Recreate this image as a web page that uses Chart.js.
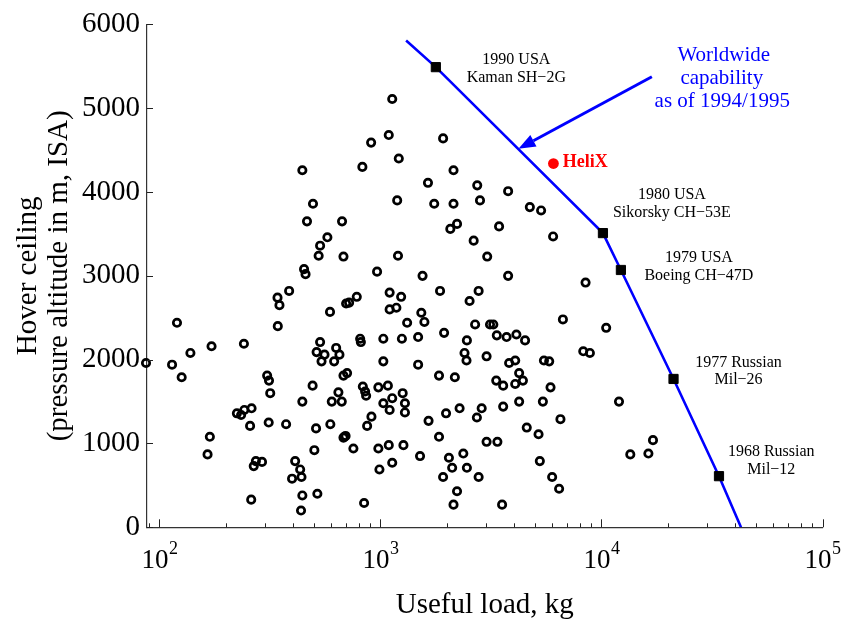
<!DOCTYPE html>
<html><head><meta charset="utf-8">
<script src="https://cdn.jsdelivr.net/npm/chart.js@4.4.1/dist/chart.umd.min.js"></script>
<style>html,body{margin:0;padding:0;background:#fff;}#wrap{width:842px;height:623px;}</style>
</head><body><div id="wrap"><canvas id="c" width="842" height="623"></canvas></div>
<script>
// ---- data ----
const loadKg = [1130,1090,907,1920,1210,828,2140,443,1640,2740,3780,2820,1190,1750,2140,495,4740,5330,465,670,
2070,2220,3440,6040,2640,575,533,525,680,1200,3040,965,451,458,1550,3780,8470,1860,2780,1100,
386,342,1240,781,699,721,2530,349,343,120,138,172,241,86.9,114,126,307,313,317,493,
443,533,514,541,558,630,652,617,591,1100,1180,1530,1580,1320,2680,3130,3240,1940,809,815,
1030,1250,1480,2460,2400,2450,3020,1030,1480,1840,2170,680,706,645,602,668,832,852,861,978,
1080,1260,1030,1130,1100,1290,1290,1650,1980,2280,2730,2870,593,511,910,870,680,695,688,754,
502,978,1090,1270,1840,3020,3380,1510,1130,989,2040,2110,2370,2460,1920,2780,518,843,2220,2140,
6690,10500,3360,3720,4120,4510,8270,8860,4070,3820,5490,5800,3340,3590,4070,4240,4410,5880,4240,5430,
3590,12000,6520,4590,5190,17100,13500,16300,5260,5980,6430,3550,224,234,242,261,257,312,374,169,
165,273,291,267,411,433,439,398,443,260,437];
const ceilingM = [5110,4680,4590,4640,4400,4300,4260,4260,4110,4080,4010,3900,3900,3860,3860,3860,3820,3780,3650,3650,
3560,3620,3590,3470,3420,3460,3360,3240,3230,3240,3230,3050,3080,3020,3000,3000,2920,2820,2820,2800,
2820,2740,2750,2750,2670,2680,2700,2650,2400,2440,2080,2160,2190,1960,1940,1790,1810,1750,1600,1690,
1500,2210,2090,1980,2060,2140,2060,1980,2570,2600,2620,2560,2450,2440,2420,2420,2420,2320,2250,2210,
2250,2250,2270,2230,2080,1990,2040,1980,1940,1810,1790,1810,1840,1610,1500,1500,1680,1620,1570,1670,
1690,1600,1480,1540,1400,1480,1370,1270,1360,1420,1310,1420,1230,1180,1320,1210,1070,1090,1080,940,
920,940,980,980,1080,1020,1020,850,770,690,830,710,880,710,600,600,400,290,430,270,
2480,2380,2290,2270,2300,2230,2100,2080,1990,1960,1990,1980,1750,1690,1710,1840,1750,1670,1500,1500,
1440,1500,1290,1190,1110,1040,870,880,790,600,460,270,1360,1340,1400,1420,1210,1250,1230,1080,
870,790,780,730,790,690,600,580,380,330,200];

const envelopeLoad = [1306, 1780, 10150, 12240, 21180, 34010, 42770];
const envelopeCeiling = [5807, 5490, 3510, 3070, 1770, 610, 0];
const envelopeMarked = [false, true, true, true, true, true, false];
const envelopeLabels = [null, ['1990 USA','Kaman SH\u22122G'], ['1980 USA','Sikorsky CH\u221253E'],
  ['1979 USA','Boeing CH\u221247D'], ['1977 Russian','Mil\u221226'], ['1968 Russian','Mil\u221212'], null];

const helixLoad = [6060];
const helixCeiling = [4340];
const helixName = 'HeliX';

const arrowFrom = [16900, 5375];
const arrowTo = [4210, 4515];
const capabilityText = ['Worldwide', 'capability', 'as of 1994/1995'];
const capabilityAt = [35200, 5355];

const xPowers = [2, 3, 4, 5];
const yTicks = [0, 1000, 2000, 3000, 4000, 5000, 6000];

// ---- styling (not data) ----
const SERIF = '"Liberation Serif", "Times New Roman", serif';
const BLUE = '#0000ff';
const labelOffsets = [null, [80.5,-7.7,10.7], [69,-38.6,-20.3], [78,-12.3,5.4], [65,-16.3,1], [52.3,-24.3,-6.3], null];

Chart.defaults.font.family = SERIF;
Chart.defaults.color = '#000';

const decor = {
  id: 'decor',
  afterDatasetsDraw(chart) {
    const {ctx, chartArea: a, scales: {x, y}} = chart;
    ctx.save();
    // inward ticks
    ctx.strokeStyle = '#222';
    ctx.lineWidth = 1;
    ctx.beginPath();
    for (let e = 1; e <= 5; e++) {
      for (let m = 1; m <= 9; m++) {
        const v = m * Math.pow(10, e);
        if (v < x.min || v > x.max * 1.0001) continue;
        const px = Math.round(x.getPixelForValue(v)) + 0.5;
        const len = m === 1 ? 8 : 4;
        ctx.moveTo(px, a.bottom);
        ctx.lineTo(px, a.bottom - len);
      }
    }
    yTicks.forEach(v => {
      const py = Math.round(y.getPixelForValue(v)) + 0.5;
      ctx.moveTo(a.left, py);
      ctx.lineTo(a.left + 6, py);
    });
    ctx.stroke();

    // x tick labels 10^n
    ctx.fillStyle = '#000';
    ctx.textBaseline = 'alphabetic';
    ctx.textAlign = 'left';
    xPowers.forEach(p => {
      const px = x.getPixelForValue(Math.pow(10, p));
      ctx.font = '27px ' + SERIF;
      const w1 = ctx.measureText('10').width;
      ctx.font = '18px ' + SERIF;
      const w2 = ctx.measureText(String(p)).width;
      const start = px - (w1 + w2) / 2;
      ctx.font = '27px ' + SERIF;
      ctx.fillText('10', start, a.bottom + 41);
      ctx.font = '18px ' + SERIF;
      ctx.fillText(String(p), start + w1 + 0.5, a.bottom + 27);
    });

    // envelope labels
    ctx.font = '16px ' + SERIF;
    ctx.textAlign = 'center';
    ctx.textBaseline = 'middle';
    envelopeLoad.forEach((v, i) => {
      const lab = envelopeLabels[i];
      if (!lab) return;
      const px = x.getPixelForValue(v), py = y.getPixelForValue(envelopeCeiling[i]);
      const o = labelOffsets[i];
      ctx.fillText(lab[0], px + o[0], py + o[1]);
      ctx.fillText(lab[1], px + o[0], py + o[2]);
    });

    // HeliX label
    ctx.fillStyle = '#ff0000';
    ctx.font = 'bold 18px ' + SERIF;
    ctx.textAlign = 'left';
    const hx = x.getPixelForValue(helixLoad[0]), hy = y.getPixelForValue(helixCeiling[0]);
    ctx.fillText(helixName, hx + 9.4, hy - 1.5);

    // capability text
    ctx.fillStyle = BLUE;
    ctx.font = '21px ' + SERIF;
    ctx.textAlign = 'center';
    const cx = x.getPixelForValue(capabilityAt[0]), cy = y.getPixelForValue(capabilityAt[1]);
    ctx.fillText(capabilityText[0], cx + 1.5, cy - 23.4);
    ctx.fillText(capabilityText[1], cx - 0.5, cy);
    ctx.fillText(capabilityText[2], cx, cy + 23);

    // arrow
    const x0 = x.getPixelForValue(arrowFrom[0]), y0 = y.getPixelForValue(arrowFrom[1]);
    const x1 = x.getPixelForValue(arrowTo[0]), y1 = y.getPixelForValue(arrowTo[1]);
    const ang = Math.atan2(y1 - y0, x1 - x0);
    const hl = 17, hw = 6.5;
    const bx = x1 - hl * Math.cos(ang), by = y1 - hl * Math.sin(ang);
    ctx.strokeStyle = BLUE;
    ctx.fillStyle = BLUE;
    ctx.lineWidth = 3;
    ctx.beginPath();
    ctx.moveTo(x0, y0);
    ctx.lineTo(bx, by);
    ctx.stroke();
    ctx.beginPath();
    ctx.moveTo(x1, y1);
    ctx.lineTo(bx + hw * Math.sin(ang), by - hw * Math.cos(ang));
    ctx.lineTo(bx - hw * Math.sin(ang), by + hw * Math.cos(ang));
    ctx.closePath();
    ctx.fill();
    ctx.restore();
  }
};

new Chart(document.getElementById('c'), {
  type: 'scatter',
  data: {
    datasets: [
      {
        type: 'line',
        label: 'Worldwide capability',
        data: envelopeLoad.map((v, i) => ({x: v, y: envelopeCeiling[i]})),
        borderColor: BLUE,
        borderWidth: 2.6,
        showLine: true,
        fill: false,
        tension: 0,
        pointStyle: 'rect',
        pointRadius: envelopeMarked.map(m => m ? 6.5 : 0),
        pointBackgroundColor: '#000',
        pointBorderColor: '#000',
        pointBorderWidth: 1
      },
      {
        label: helixName,
        data: helixLoad.map((v, i) => ({x: v, y: helixCeiling[i]})),
        pointRadius: 5.4,
        pointBackgroundColor: '#ff0000',
        pointBorderColor: '#ff0000',
        pointBorderWidth: 0
      },
      {
        label: 'Helicopters',
        data: loadKg.map((v, i) => ({x: v, y: ceilingM[i]})),
        pointRadius: 3.7,
        pointBorderWidth: 2.7,
        pointBorderColor: '#000',
        pointBackgroundColor: 'rgba(0,0,0,0)',
        clip: false
      }
    ]
  },
  options: {
    responsive: false,
    animation: false,
    devicePixelRatio: 1,
    layout: {padding: {left: 0, right: 19.5, top: 18, bottom: 0}},
    plugins: {legend: {display: false}, tooltip: {enabled: false}},
    scales: {
      x: {
        type: 'logarithmic',
        position: 'bottom',
        min: 87.8,
        max: 100000,
        grid: {display: false, drawTicks: false},
        border: {display: true, color: '#333', width: 1.2},
        ticks: {display: false},
        title: {display: true, text: 'Useful load, kg', font: {size: 29, lineHeight: 1.2}, color: '#000', padding: {top: 0, bottom: 0.6}},
        afterFit: s => { s.height = 95.7; }
      },
      y: {
        type: 'linear',
        position: 'left',
        min: 0,
        max: 6000,
        grid: {display: false, drawTicks: false},
        border: {display: true, color: '#333', width: 1.2},
        ticks: {stepSize: 1000, padding: 7, font: {size: 29}, color: '#000', callback: v => String(v)},
        title: {display: true, text: ['Hover ceiling', '(pressure altitude in m, ISA)'], font: {size: 29, lineHeight: 1.1}, color: '#000', padding: {top: 12, bottom: 0}},
        afterFit: s => { s.width = 147; }
      }
    }
  },
  plugins: [decor]
});
</script>
</body></html>
